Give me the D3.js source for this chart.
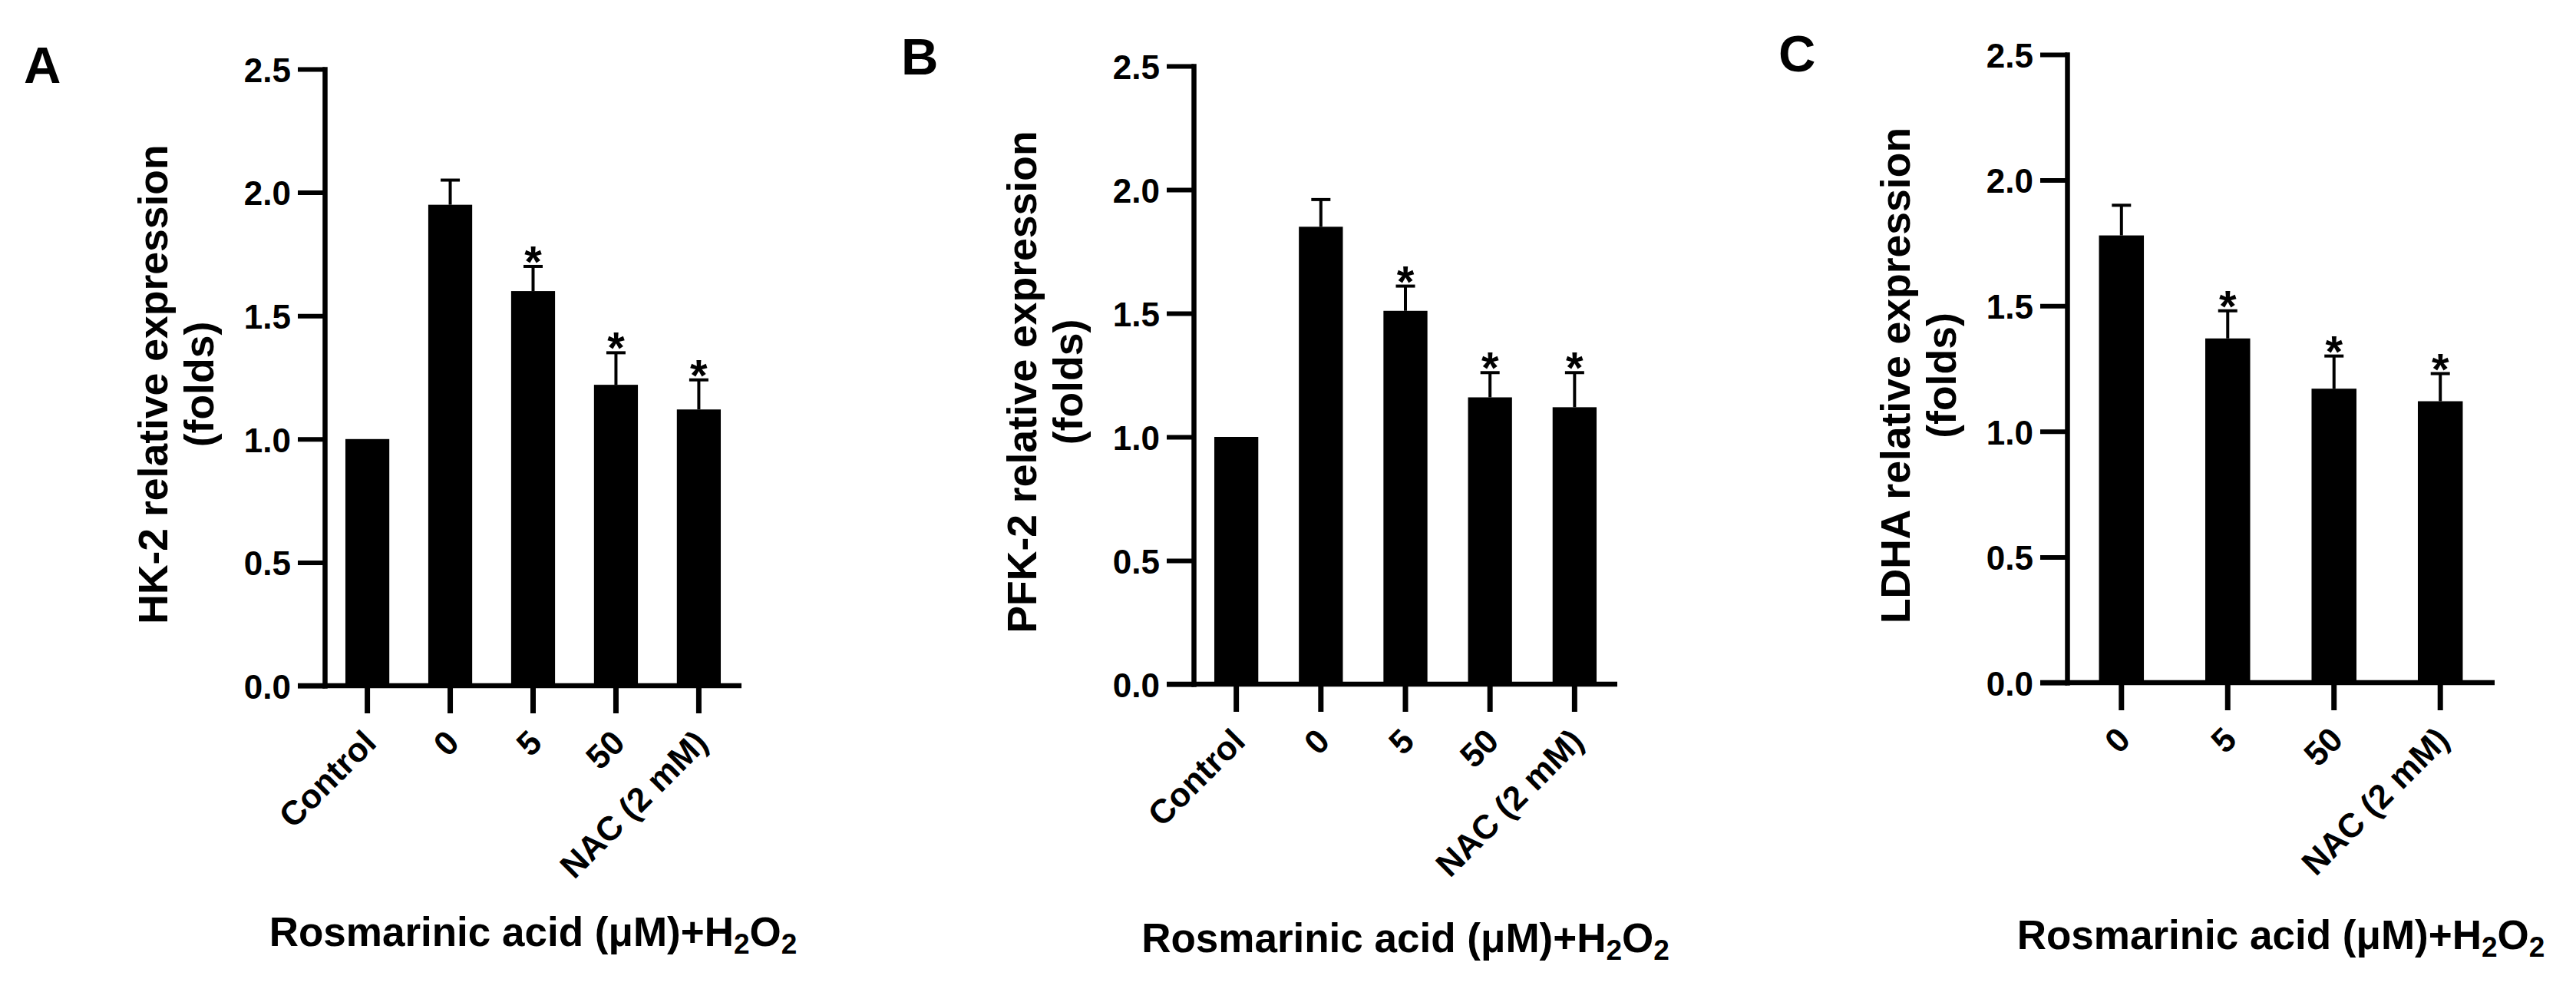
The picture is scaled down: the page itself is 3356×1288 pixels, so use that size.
<!DOCTYPE html>
<html>
<head>
<meta charset="utf-8">
<script src="https://cdn.jsdelivr.net/npm/d3@7"></script>
<style>
  body { margin: 0; background: #fff; }
  svg text { font-family: "Liberation Sans", Arial, sans-serif; font-weight: bold; fill: #000; }
</style>
</head>
<body>
<div id="chart"></div>
<script>
// data
var groupsAB = ["Control", "0", "5", "50", "NAC (2 mM)"];
var groupsC = ["0", "5", "50", "NAC (2 mM)"];

var hk2Mean = [1.00, 1.95, 1.60, 1.22, 1.12];
var hk2Err  = [0, 0.10, 0.10, 0.13, 0.12];
var hk2Sig  = [false, false, true, true, true];

var pfk2Mean = [1.00, 1.85, 1.51, 1.16, 1.12];
var pfk2Err  = [0, 0.11, 0.10, 0.10, 0.14];
var pfk2Sig  = [false, false, true, true, true];

var ldhaMean = [1.78, 1.37, 1.17, 1.12];
var ldhaErr  = [0.12, 0.11, 0.13, 0.11];
var ldhaSig  = [false, true, true, true];

var yTicks = [0, 0.5, 1.0, 1.5, 2.0, 2.5];
var xTitle = "Rosmarinic acid (\u03bcM)+H";

var W = 3356, H = 1288;

var svg = d3.select("#chart")
  .append("svg")
    .attr("width", W)
    .attr("height", H);

svg.append("rect").attr("width", W).attr("height", H).attr("fill", "#fff");

// one entry per panel: what to draw + where
var panels = [
  { letter: "A", yLabel: "HK-2 relative expression", cats: groupsAB, mean: hk2Mean, err: hk2Err, sig: hk2Sig,
    left: 423, right: 966, top: 90, bottom: 893, pi: 0.47, po: 0.25,
    lx: 31, ly: 108, titleY: 1232 },
  { letter: "B", yLabel: "PFK-2 relative expression", cats: groupsAB, mean: pfk2Mean, err: pfk2Err, sig: pfk2Sig,
    left: 1555, right: 2107, top: 86, bottom: 891, pi: 0.48, po: 0.245,
    lx: 1174, ly: 97, titleY: 1240 },
  { letter: "C", yLabel: "LDHA relative expression", cats: groupsC, mean: ldhaMean, err: ldhaErr, sig: ldhaSig,
    left: 2693, right: 3250, top: 71, bottom: 889, pi: 0.5775, po: 0.30,
    lx: 2317, ly: 93, titleY: 1236 }
];

var tickLen = 35;

panels.forEach(function(p) {
  var g = svg.append("g");

  var x = d3.scaleBand()
    .domain(p.cats)
    .range([p.left, p.right])
    .paddingInner(p.pi)
    .paddingOuter(p.po);

  var y = d3.scaleLinear()
    .domain([0, 2.5])
    .range([p.bottom, p.top]);

  // bars
  g.selectAll(".bar")
    .data(p.mean)
    .enter()
    .append("rect")
      .attr("class", "bar")
      .attr("x", function(d, i) { return x(p.cats[i]); })
      .attr("width", x.bandwidth())
      .attr("y", function(d) { return y(d); })
      .attr("height", function(d) { return y(0) - y(d); })
      .attr("fill", "#000");

  // error bars (upper only)
  var eb = g.selectAll(".err")
    .data(p.mean.map(function(m, i) { return { c: p.cats[i], m: m, e: p.err[i], s: p.sig[i] }; }))
    .enter()
    .append("g")
      .attr("class", "err");

  eb.filter(function(d) { return d.e > 0; })
    .append("line")
      .attr("x1", function(d) { return x(d.c) + x.bandwidth() / 2; })
      .attr("x2", function(d) { return x(d.c) + x.bandwidth() / 2; })
      .attr("y1", function(d) { return y(d.m); })
      .attr("y2", function(d) { return y(d.m + d.e); })
      .attr("stroke", "#000")
      .attr("stroke-width", 4);

  eb.filter(function(d) { return d.e > 0; })
    .append("line")
      .attr("x1", function(d) { return x(d.c) + x.bandwidth() / 2 - 12.5; })
      .attr("x2", function(d) { return x(d.c) + x.bandwidth() / 2 + 12.5; })
      .attr("y1", function(d) { return y(d.m + d.e); })
      .attr("y2", function(d) { return y(d.m + d.e); })
      .attr("stroke", "#000")
      .attr("stroke-width", 4);

  // significance stars
  eb.filter(function(d) { return d.s; })
    .append("text")
      .attr("x", function(d) { return x(d.c) + x.bandwidth() / 2; })
      .attr("y", function(d) { return y(d.m + d.e) + 14; })
      .attr("text-anchor", "middle")
      .style("font-size", "58px")
      .text("*");

  // y axis
  var yAxis = d3.axisLeft(y)
    .tickValues(yTicks)
    .tickFormat(d3.format(".1f"))
    .tickSize(tickLen)
    .tickSizeOuter(0)
    .tickPadding(9);

  var ya = g.append("g")
    .attr("transform", "translate(" + p.left + ",0)")
    .call(yAxis);
  ya.select(".domain").attr("stroke-width", 6.5).attr("stroke-linecap", "square");
  ya.selectAll(".tick line").attr("stroke-width", 6);
  ya.selectAll(".tick text")
    .attr("dy", "0.37em")
    .style("font-size", "44px");

  // x axis: baseline extends left to the y tick ends
  g.append("line")
    .attr("x1", p.left - tickLen)
    .attr("x2", p.right)
    .attr("y1", y(0))
    .attr("y2", y(0))
    .attr("stroke", "#000")
    .attr("stroke-width", 6.5);

  var xAxis = d3.axisBottom(x)
    .tickSize(tickLen + 1)
    .tickSizeOuter(0);

  var xa = g.append("g")
    .attr("transform", "translate(0," + y(0) + ")")
    .call(xAxis);
  xa.select(".domain").remove();
  xa.selectAll(".tick line").attr("stroke-width", 7);
  xa.selectAll(".tick text")
    .attr("x", null)
    .attr("y", null)
    .attr("dy", null)
    .attr("text-anchor", "end")
    .attr("transform", "translate(14,77) rotate(-45)")
    .style("font-size", "44px");

  // y title, two lines
  var cy = (p.top + p.bottom) / 2 + 9;
  g.append("text")
    .attr("transform", "translate(" + (p.left - 205) + "," + cy + ") rotate(-90)")
    .attr("text-anchor", "middle")
    .style("font-size", "53.5px")
    .text(p.yLabel);
  g.append("text")
    .attr("transform", "translate(" + (p.left - 145) + "," + cy + ") rotate(-90)")
    .attr("text-anchor", "middle")
    .style("font-size", "53.5px")
    .text("(folds)");

  // x title with subscripts
  var xt = g.append("text")
    .attr("x", (p.left + p.right) / 2)
    .attr("y", p.titleY)
    .attr("text-anchor", "middle")
    .style("font-size", "53px");
  xt.append("tspan").text(xTitle);
  xt.append("tspan").attr("dy", 10).style("font-size", "37px").text("2");
  xt.append("tspan").attr("dy", -10).text("O");
  xt.append("tspan").attr("dy", 10).style("font-size", "37px").text("2");

  // panel letter
  g.append("text")
    .attr("x", p.lx)
    .attr("y", p.ly)
    .style("font-size", "67px")
    .text(p.letter);
});
</script>
</body>
</html>
